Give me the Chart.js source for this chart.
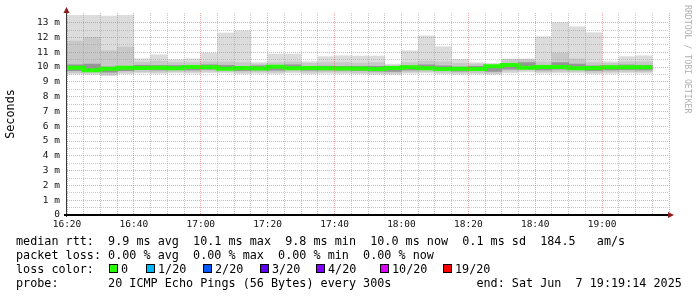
<!DOCTYPE html>
<html>
<head>
<meta charset="utf-8">
<script src="https://cdn.jsdelivr.net/npm/chart.js@4.4.0/dist/chart.umd.min.js"></script>
<style>
	html, body { margin: 0; padding: 0; background: #fff; }
	#wrap { position: relative; width: 697px; height: 297px; overflow: hidden; font-family: "DejaVu Sans Mono", monospace; }
	#graph { position: absolute; left: 0; top: 0; }
	.lg { position: absolute; font-size: 11.78px; line-height: 14px; white-space: pre; color: #000; }
	.box { position: absolute; top: 264px; width: 7px; height: 7px; border: 1px solid #000; }
	.wm { position: absolute; left: 683px; top: 5px; font-size: 8.2px; line-height: 10px; color: #b0b0b0; writing-mode: vertical-rl; white-space: pre; }
</style>
</head>
<body>
<div id="wrap">
	<canvas id="graph" width="697" height="297"></canvas>
	<div class="lg" style="left:16px;top:234px;">median rtt:  9.9 ms avg  10.1 ms max  9.8 ms min  10.0 ms now  0.1 ms sd  184.5   am/s</div>
	<div class="lg" style="left:16px;top:248px;">packet loss: 0.00 % avg  0.00 % max  0.00 % min  0.00 % now</div>
	<div class="lg" style="left:16px;top:262px;">loss color:</div>
	<div id="lossRow"></div>
	<div class="lg" style="left:16px;top:276px;">probe:       20 ICMP Echo Pings (56 Bytes) every 300s            end: Sat Jun  7 19:19:14 2025</div>
	<div class="wm">RRDTOOL / TOBI OETIKER</div>
</div>
<script>
// 5분 슬롯 (마지막 슬롯은 비어 있음)
var slotStarts = ["16:20","16:25","16:30","16:35","16:40","16:45","16:50","16:55","17:00","17:05","17:10","17:15",
	"17:20","17:25","17:30","17:35","17:40","17:45","17:50","17:55","18:00","18:05","18:10","18:15",
	"18:20","18:25","18:30","18:35","18:40","18:45","18:50","18:55","19:00","19:05","19:10","19:15"];
var axisStart = "16:20";
var axisEnd = "19:20";
var timeTicks = ["16:20","16:40","17:00","17:20","17:40","18:00","18:20","18:40","19:00"];

// RTT (ms)
var rttMax = [13.5,13.5,13.45,13.5,10.56,10.83,10.5,10.55,10.95,12.3,12.45,10.3,10.88,10.88,10.36,10.7,10.76,10.74,
	10.74,10.2,11.1,12.1,11.37,10.52,10.29,10.25,10.54,10.54,12.05,13.0,12.72,12.32,10.36,10.7,10.76];
var rttUpper = [11.75,12.0,11.1,11.35,10.33,10.4,10.3,10.3,10.35,10.35,10.3,10.2,10.3,10.35,10.25,10.3,10.3,10.25,
	10.3,10.1,10.3,10.4,10.35,10.25,10.2,10.15,10.5,10.5,10.35,10.95,10.54,10.3,10.25,10.35,10.35];
var rttDarkHi = [10.15,10.2,10.0,10.05,10.12,10.1,10.1,10.08,10.15,10.12,10.05,10.08,10.05,10.15,10.05,10.06,10.05,10.05,
	10.05,10.0,10.08,10.15,10.08,10.0,10.04,10.0,10.25,10.3,10.12,10.3,10.2,10.08,10.08,10.14,10.12];
var rttMedian = [9.91,9.95,9.78,9.89,9.95,9.93,9.95,9.92,10.0,9.98,9.89,9.93,9.90,10.02,9.91,9.93,9.91,9.90,
	9.90,9.86,9.93,9.99,9.91,9.86,9.89,9.86,10.05,10.13,9.95,10.0,10.0,9.91,9.93,9.98,9.98];
var rttDarkLo = [9.75,9.78,9.65,9.75,9.82,9.8,9.82,9.8,9.85,9.84,9.76,9.8,9.78,9.86,9.78,9.8,9.78,9.76,
	9.72,9.7,9.8,9.84,9.78,9.72,9.75,9.7,9.85,9.92,9.8,9.85,9.83,9.76,9.8,9.82,9.8];
var rttLower = [9.62,9.6,9.5,9.65,9.68,9.65,9.7,9.66,9.72,9.7,9.64,9.66,9.64,9.72,9.65,9.66,9.65,9.62,
	9.6,9.58,9.66,9.7,9.64,9.6,9.62,9.58,9.72,9.78,9.68,9.7,9.7,9.64,9.66,9.7,9.68];
var rttMin = [9.52,9.5,9.42,9.55,9.6,9.57,9.6,9.58,9.62,9.6,9.55,9.57,9.56,9.6,9.55,9.57,9.56,9.53,
	9.5,9.5,9.58,9.6,9.55,9.5,9.52,9.5,9.6,9.66,9.58,9.6,9.6,9.55,9.57,9.6,9.58];

var lossLabels = ["0","1/20","2/20","3/20","4/20","10/20","19/20"];
var lossColors = ["#26ff00","#00b8ff","#0059ff","#5e00ff","#7e00ff","#dd00ff","#ff0000"];

var smokeGraph = {
	monoFont: "DejaVu Sans Mono",
	lossTextX: [121, 158, 215, 272, 328, 392, 455],
	init: function(){
		smokeGraph.drawLossRow();
		smokeGraph.drawChart();
	},
	toMin: function(hhmm){
		var p = hhmm.split(":"), s = axisStart.split(":");
		return (p[0] * 60 + +p[1]) - (s[0] * 60 + +s[1]);
	},
	pairs: function(lo, hi){
		return lo.map(function(v, i){ return [v, hi[i]]; });
	},
	drawLossRow: function(){
		var html = "";
		lossLabels.forEach(function(label, i){
			var x = smokeGraph.lossTextX[i];
			html += "<div class='box' style='left:" + Math.round(x - 12.5) + "px;background:" + lossColors[i] + ";'></div>";
			html += "<div class='lg' style='left:" + x + "px;top:262px;'>" + label + "</div>";
		});
		document.getElementById("lossRow").innerHTML = html;
	},
	drawChart: function(){
		var medianPts = rttMedian.map(function(v, i){ return {x: smokeGraph.toMin(slotStarts[i]), y: v}; });
		// 마지막 슬롯 끝까지 계단선 연장
		medianPts.push({x: smokeGraph.toMin(slotStarts[rttMedian.length]), y: rttMedian[rttMedian.length - 1]});

		var majorColor = "rgba(225,110,110,0.6)";
		var minorColor = "rgba(150,150,150,0.5)";
		var tickFont = {family: smokeGraph.monoFont, size: 9.5};

		var axisArrows = {
			id: "axisArrows",
			afterDraw: function(chart){
				var ctx = chart.ctx, a = chart.chartArea;
				ctx.save();
				ctx.fillStyle = "#3a3a3a";
				ctx.fillRect(a.left - 1, a.top - 4, 1, a.bottom - a.top + 6);
				ctx.fillStyle = "#000";
				ctx.fillRect(a.left - 3, a.bottom - 1, a.right - a.left + 3, 2);
				ctx.fillStyle = "#8c1c1c";
				ctx.beginPath();
				ctx.moveTo(a.left - 0.5, a.top - 6);
				ctx.lineTo(a.left - 3.5, a.top);
				ctx.lineTo(a.left + 2.5, a.top);
				ctx.closePath();
				ctx.fill();
				ctx.beginPath();
				ctx.moveTo(a.right + 5, a.bottom);
				ctx.lineTo(a.right - 1, a.bottom - 3);
				ctx.lineTo(a.right - 1, a.bottom + 3);
				ctx.closePath();
				ctx.fill();
				ctx.restore();
			}
		};

		new Chart(document.getElementById("graph"), {
			type: "bar",
			data: {
				labels: slotStarts,
				datasets: [
					{type: "line", label: "median", xAxisID: "x2", data: medianPts, borderColor: lossColors[0], borderWidth: 4, stepped: "after", pointRadius: 0, order: 0},
					{label: "core", data: smokeGraph.pairs(rttDarkLo, rttDarkHi), backgroundColor: "#969696", order: 1},
					{label: "mid", data: smokeGraph.pairs(rttLower, rttUpper), backgroundColor: "#c8c8c8", order: 2},
					{label: "smoke", data: smokeGraph.pairs(rttMin, rttMax), backgroundColor: "#dcdcdc", order: 3}
				]
			},
			options: {
				responsive: false,
				animation: false,
				devicePixelRatio: 1,
				layout: {padding: {left: 0, right: 28, top: 13, bottom: 0}},
				plugins: {legend: {display: false}, tooltip: {enabled: false}},
				datasets: {bar: {grouped: false, categoryPercentage: 1, barPercentage: 1, borderWidth: 0}},
				scales: {
					x: {display: false, offset: true},
					x2: {
						type: "linear", position: "bottom", offset: false,
						min: 0, max: smokeGraph.toMin(axisEnd),
						afterFit: function(s){ s.height = 82; },
						grid: {z: 1, offset: false, drawTicks: false, lineWidth: 1, color: function(c){ return c.tick && c.tick.value % 20 === 0 ? majorColor : minorColor; }},
						border: {display: false, dash: [1, 1]},
						ticks: {
							stepSize: 5, maxTicksLimit: 1000, autoSkip: false, maxRotation: 0, padding: 4,
							font: tickFont, color: "#111",
							callback: function(v){ return v % 20 === 0 ? (timeTicks[v / 20] || "") : ""; }
						}
					},
					y: {
						min: 0, max: 13.65,
						afterFit: function(s){ s.width = 67; },
						afterBuildTicks: function(s){
							s.ticks = s.ticks.filter(function(t){ return Math.abs(t.value * 2 - Math.round(t.value * 2)) < 1e-6; });
						},
						grid: {z: 1, drawTicks: false, lineWidth: 1, color: function(c){ return c.tick && Number.isInteger(c.tick.value) ? majorColor : minorColor; }},
						border: {display: false, dash: [1, 1]},
						ticks: {
							stepSize: 0.5, maxTicksLimit: 1000, autoSkip: false, padding: 7,
							font: tickFont, color: "#111",
							callback: function(v){ return Number.isInteger(v) ? (v === 0 ? "0" : v + " m") : ""; }
						},
						title: {display: true, text: "Seconds", color: "#000", font: {family: smokeGraph.monoFont, size: 11.78}, padding: {top: 4, bottom: 0}}
					}
				}
			},
			plugins: [axisArrows]
		});
	}
};

smokeGraph.init();
</script>
</body>
</html>
